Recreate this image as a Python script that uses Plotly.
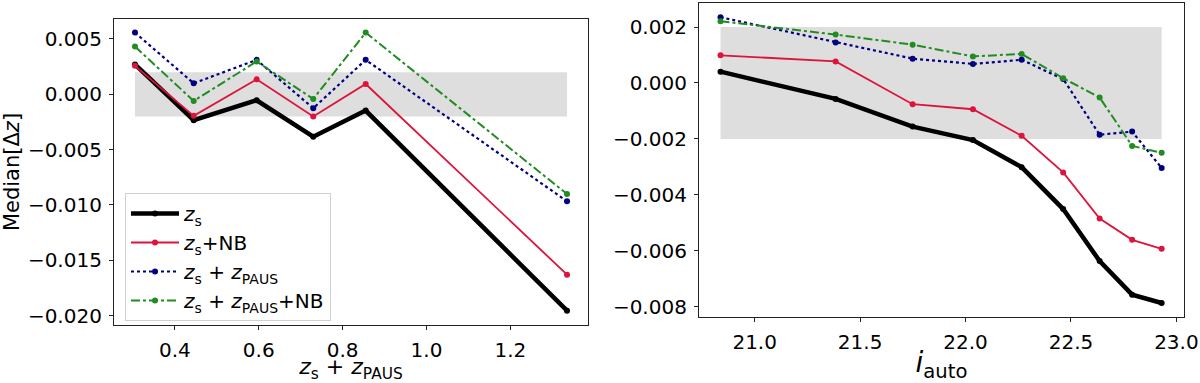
import plotly.graph_objects as go

# left panel: binned in z_s + z_PAUS
z_bins = [0.305, 0.445, 0.595, 0.73, 0.855, 1.335]
z_zs = [0.0027, -0.00234, -0.00054, -0.00383, -0.00147, -0.01955]
z_zs_nb = [0.00257, -0.00195, 0.00135, -0.0020, 0.00093, -0.01629]
z_zs_paus = [0.00557, 0.00099, 0.00311, -0.00126, 0.00311, -0.00967]
z_zs_paus_nb = [0.00431, -0.0006, 0.00296, -0.00042, 0.00557, -0.00901]

# right panel: binned in i_auto
i_bins = [20.838, 21.384, 21.749, 22.035, 22.266, 22.463, 22.636, 22.79, 22.93]
i_zs = [0.000405, -0.00057, -0.00156, -0.00204, -0.00301, -0.00451, -0.00637, -0.00757, -0.00787]
i_zs_nb = [0.00099, 0.00077, -0.00076, -0.00094, -0.00189, -0.0032, -0.00485, -0.00561, -0.00593]
i_zs_paus = [0.00235, 0.00145, 0.00087, 0.00068, 0.00083, 0.00014, -0.00185, -0.00174, -0.00304]
i_zs_paus_nb = [0.00221, 0.00173, 0.00137, 0.00095, 0.00104, 0.00017, -0.00052, -0.00225, -0.0025]

band = 0.002  # requirement band +-0.002

ZS = "<i>z</i><sub>s</sub>"
ZP = "<i>z</i><sub>PAUS</sub>"
names = [ZS, ZS + "+NB", ZS + " + " + ZP, ZS + " + " + ZP + "+NB"]
styles = [
    dict(color="black", width=4.5, dash="solid"),
    dict(color="crimson", width=1.8, dash="solid"),
    dict(color="navy", width=2.2, dash="dot"),
    dict(color="forestgreen", width=2, dash="dashdot"),
]

fig = go.Figure()

left = [z_zs, z_zs_nb, z_zs_paus, z_zs_paus_nb]
right = [i_zs, i_zs_nb, i_zs_paus, i_zs_paus_nb]

for k in range(4):
    fig.add_trace(go.Scatter(
        x=z_bins, y=left[k], mode="lines+markers", name=names[k],
        line=styles[k], marker=dict(size=6, color=styles[k]["color"]),
        legendgroup=str(k), xaxis="x", yaxis="y",
    ))
for k in range(4):
    fig.add_trace(go.Scatter(
        x=i_bins, y=right[k], mode="lines+markers", name=names[k],
        line=styles[k], marker=dict(size=6, color=styles[k]["color"]),
        showlegend=False, xaxis="x2", yaxis="y2",
    ))

# grey bands spanning the bins
fig.add_shape(type="rect", xref="x", yref="y", x0=z_bins[0], x1=z_bins[-1],
              y0=-band, y1=band, fillcolor="#dedede", line_width=0, layer="below")
fig.add_shape(type="rect", xref="x2", yref="y2", x0=i_bins[0], x1=i_bins[-1],
              y0=-band, y1=band, fillcolor="#dedede", line_width=0, layer="below")

axis_common = dict(
    showline=True, linecolor="#222", linewidth=1.2, mirror=True,
    ticks="outside", ticklen=4, tickcolor="#222", showgrid=False,
    zeroline=False, automargin=False, ticklabelstandoff=3,
    tickfont=dict(size=20, color="black"),
)

fig.update_layout(
    width=1200, height=383,
    margin=dict(l=0, r=0, t=0, b=0),
    plot_bgcolor="white", paper_bgcolor="white",
    font=dict(family="DejaVu Sans", color="black"),
    xaxis=dict(axis_common, domain=[114 / 1200, 588 / 1200], anchor="y",
               range=[0.255, 1.385], dtick=0.2, tick0=0, tickformat=".1f",
               title=dict(text=ZS + " + " + ZP, font=dict(size=22), standoff=2)),
    yaxis=dict(axis_common, domain=[1 - 325 / 383, 1 - 19 / 383], anchor="x",
               range=[-0.02084, 0.0068], dtick=0.005, tick0=0, tickformat=".3f",
               title=dict(text="Median[Δ<i>z</i>]", font=dict(size=21), standoff=8)),
    xaxis2=dict(axis_common, domain=[699 / 1200, 1184 / 1200], anchor="y2",
                range=[20.736, 23.036], dtick=0.5, tick0=0, tickformat=".1f",
                title=dict(text="<i>i</i><sub>auto</sub>", font=dict(size=28), standoff=2)),
    yaxis2=dict(axis_common, domain=[1 - 317 / 383, 1 - 3 / 383], anchor="x2",
                range=[-0.00837, 0.00286], dtick=0.002, tick0=0, tickformat=".3f"),
    legend=dict(
        x=125 / 1200, y=1 - 193 / 383, xanchor="left", yanchor="top",
        bgcolor="white", bordercolor="#d0d0d0", borderwidth=1,
        font=dict(size=20), tracegroupgap=0, itemwidth=48,
    ),
)

# drop the default page margin so the 1200x383 figure fills the window
fig.write_html(
    "out.html",
    config={"displayModeBar": False},
    post_script="document.body.style.margin='0';",
)
